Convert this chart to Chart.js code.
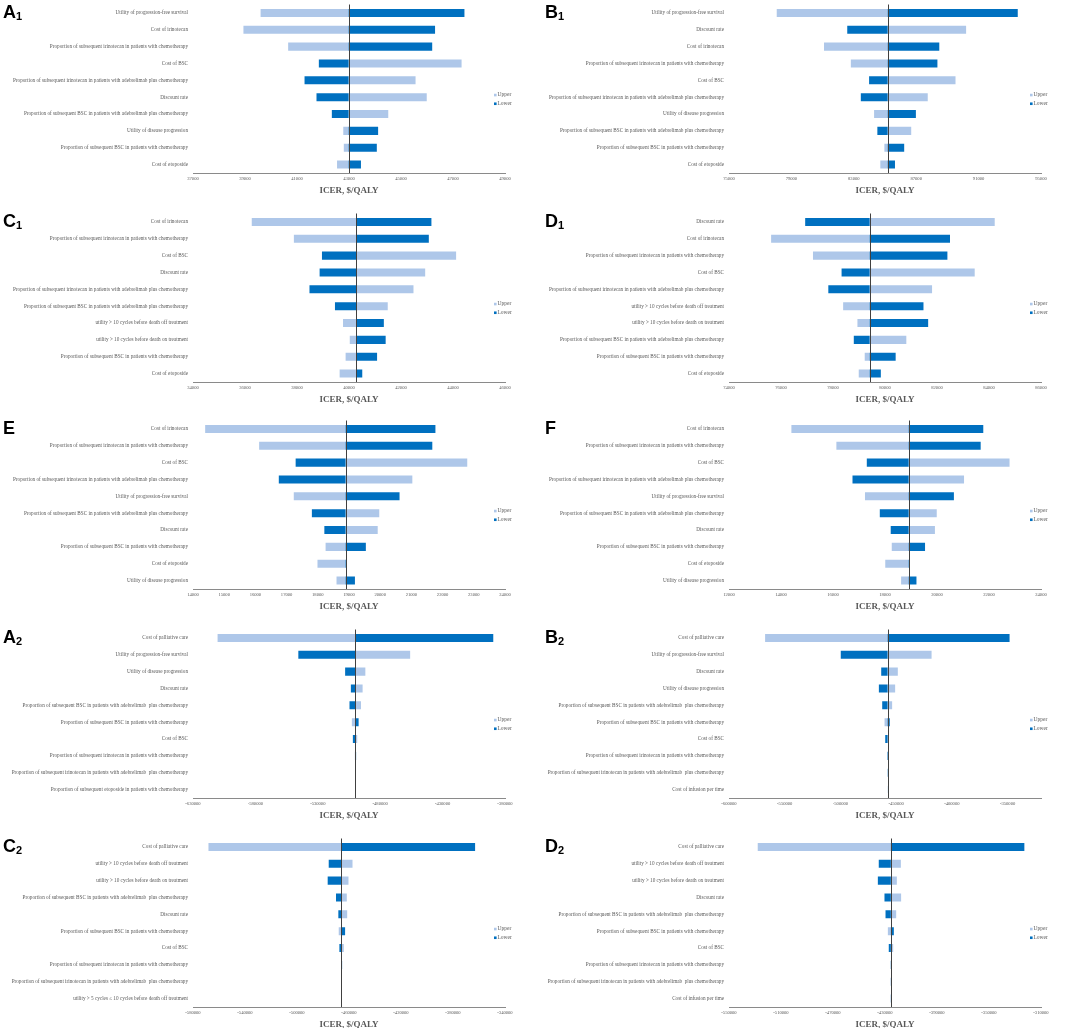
<!DOCTYPE html>
<html>
<head>
<meta charset="utf-8">
<script src="https://cdn.jsdelivr.net/npm/chart.js@4.4.0/dist/chart.umd.min.js"></script>
<style>
    body { margin: 0; background: #fff; width: 1065px; height: 1028px; overflow: hidden; position: relative; }
    .panel { position: absolute; width: 530px; height: 200px; }
    .panel canvas { position: absolute; left: 0; top: 0; }
    .tag { position: absolute; top: 3px; font: bold 18px/18px "Liberation Sans", Arial, sans-serif; color: #000; }
    .tag sub { font-size: 11px; vertical-align: -2px; line-height: 0; }
</style>
</head>
<body>

<div class="panel" style="left:0;top:0"><canvas id="a1" width="530" height="200"></canvas><div class="tag" style="left:3px">A<sub>1</sub></div></div>
<div class="panel" style="left:536px;top:0"><canvas id="b1" width="530" height="200"></canvas><div class="tag" style="left:9px">B<sub>1</sub></div></div>
<div class="panel" style="left:0;top:209px"><canvas id="c1" width="530" height="200"></canvas><div class="tag" style="left:3px">C<sub>1</sub></div></div>
<div class="panel" style="left:536px;top:209px"><canvas id="d1" width="530" height="200"></canvas><div class="tag" style="left:9px">D<sub>1</sub></div></div>
<div class="panel" style="left:0;top:416px"><canvas id="e" width="530" height="200"></canvas><div class="tag" style="left:3px">E</div></div>
<div class="panel" style="left:536px;top:416px"><canvas id="f" width="530" height="200"></canvas><div class="tag" style="left:9px">F</div></div>
<div class="panel" style="left:0;top:625px"><canvas id="a2" width="530" height="200"></canvas><div class="tag" style="left:3px">A<sub>2</sub></div></div>
<div class="panel" style="left:536px;top:625px"><canvas id="b2" width="530" height="200"></canvas><div class="tag" style="left:9px">B<sub>2</sub></div></div>
<div class="panel" style="left:0;top:834px"><canvas id="c2" width="530" height="200"></canvas><div class="tag" style="left:3px">C<sub>2</sub></div></div>
<div class="panel" style="left:536px;top:834px"><canvas id="d2" width="530" height="200"></canvas><div class="tag" style="left:9px">D<sub>2</sub></div></div>

<script>
// ---- data (ICER, $/QALY) ----
// axis arrays are [min, max, step]

const a1Labels = [
    'Utility of progression-free survival',
    'Cost of irinotecan',
    'Proportion of subsequent irinotecan in patients with chemotherapy',
    'Cost of BSC',
    'Proportion of subsequent irinotecan in patients with adebrelimab plus chemotherapy',
    'Discount rate',
    'Proportion of subsequent BSC in patients with adebrelimab plus chemotherapy',
    'Utility of disease progression',
    'Proportion of subsequent BSC in patients with chemotherapy',
    'Cost of etoposide',
];
const a1Upper = [39600, 38940, 40660, 47330, 45560, 45990, 44510, 42780, 42800, 42540];
const a1Lower = [47440, 46310, 46200, 41840, 41290, 41750, 42340, 44120, 44070, 43460];
const a1Base = 42985;
const a1Axis = [37000, 49000, 2000];

const b1Labels = [
    'Utility of progression-free survival',
    'Discount rate',
    'Cost of irinotecan',
    'Proportion of subsequent irinotecan in patients with chemotherapy',
    'Cost of BSC',
    'Proportion of subsequent irinotecan in patients with adebrelimab plus chemotherapy',
    'Utility of disease progression',
    'Proportion of subsequent BSC in patients with adebrelimab plus chemotherapy',
    'Proportion of subsequent BSC in patients with chemotherapy',
    'Cost of etoposide',
];
const b1Upper = [78060, 90200, 81090, 82810, 89520, 87740, 84300, 86680, 84960, 84700];
const b1Lower = [93510, 82580, 88480, 88360, 83980, 83450, 86980, 84510, 86230, 85640];
const b1Base = 85170;
const b1Axis = [75000, 95000, 4000];

const c1Labels = [
    'Cost of irinotecan',
    'Proportion of subsequent irinotecan in patients with chemotherapy',
    'Cost of BSC',
    'Discount rate',
    'Proportion of subsequent irinotecan in patients with adebrelimab plus chemotherapy',
    'Proportion of subsequent BSC in patients with adebrelimab plus chemotherapy',
    'utility > 10 cycles before death off treatment',
    'utility > 10 cycles before death on treatment',
    'Proportion of subsequent BSC in patients with chemotherapy',
    'Cost of etoposide',
];
const c1Upper = [36260, 37880, 44120, 42930, 42480, 41490, 39770, 40030, 39870, 39640];
const c1Lower = [43170, 43070, 38960, 38870, 38480, 39460, 41340, 41410, 41080, 40510];
const c1Base = 40270;
const c1Axis = [34000, 46000, 2000];

const d1Labels = [
    'Discount rate',
    'Cost of irinotecan',
    'Proportion of subsequent irinotecan in patients with chemotherapy',
    'Cost of BSC',
    'Proportion of subsequent irinotecan in patients with adebrelimab plus chemotherapy',
    'utility > 10 cycles before death off treatment',
    'utility > 10 cycles before death on treatment',
    'Proportion of subsequent BSC in patients with adebrelimab plus chemotherapy',
    'Proportion of subsequent BSC in patients with chemotherapy',
    'Cost of etoposide',
];
const d1Upper = [84220, 75620, 77230, 83450, 81810, 78390, 78940, 80820, 79220, 78990];
const d1Lower = [76930, 82500, 82400, 78330, 77820, 81480, 81660, 78800, 80410, 79840];
const d1Base = 79410;
const d1Axis = [74000, 86000, 2000];

const eLabels = [
    'Cost of irinotecan',
    'Proportion of subsequent irinotecan in patients with chemotherapy',
    'Cost of BSC',
    'Proportion of subsequent irinotecan in patients with adebrelimab plus chemotherapy',
    'Utility of progression-free survival',
    'Proportion of subsequent BSC in patients with adebrelimab plus chemotherapy',
    'Discount rate',
    'Proportion of subsequent BSC in patients with chemotherapy',
    'Cost of etoposide',
    'Utility of disease progression',
];
const eUpper = [14390, 16120, 22790, 21030, 17230, 19970, 19920, 18250, 17990, 18600];
const eLower = [21770, 21670, 17290, 16750, 20620, 17810, 18210, 19540, 18920, 19190];
const eBase = 18890;
const eAxis = [14000, 24000, 1000];

const fLabels = eLabels;
const fUpper = [14400, 16130, 22790, 21040, 17230, 19990, 19920, 18260, 18010, 18620];
const fLower = [21780, 21680, 17300, 16750, 20650, 17800, 18220, 19540, 18950, 19210];
const fBase = 18910;
const fAxis = [12000, 24000, 2000];

const a2Labels = [
    'Cost of palliative care',
    'Utility of progression-free survival',
    'Utility of disease progression',
    'Discount rate',
    'Proportion of subsequent BSC in patients with adebrelimab  plus chemotherapy',
    'Proportion of subsequent BSC in patients with chemotherapy',
    'Cost of BSC',
    'Proportion of subsequent irinotecan in patients with chemotherapy',
    'Proportion of subsequent irinotecan in patients with adebrelimab  plus chemotherapy',
    'Proportion of subsequent etoposide in patients with chemotherapy',
];
const a2Upper = [-610300, -456000, -491900, -494100, -495400, -502700, -498400, -500300, -500200, -500150];
const a2Lower = [-389400, -545600, -508100, -503500, -504600, -497300, -501900, -499300, -499700, -499900];
const a2Base = -500100;
const a2Axis = [-630000, -380000, 50000];

const b2Labels = [
    'Cost of palliative care',
    'Utility of progression-free survival',
    'Discount rate',
    'Utility of disease progression',
    'Proportion of subsequent BSC in patients with adebrelimab  plus chemotherapy',
    'Proportion of subsequent BSC in patients with chemotherapy',
    'Cost of BSC',
    'Proportion of subsequent irinotecan in patients with chemotherapy',
    'Proportion of subsequent irinotecan in patients with adebrelimab  plus chemotherapy',
    'Cost of infusion per time',
];
const b2Upper = [-567600, -418200, -448500, -450900, -453600, -460400, -456600, -457900, -457800, -457750];
const b2Lower = [-348200, -499700, -463400, -465500, -462500, -455700, -459800, -457300, -457500, -457650];
const b2Base = -457700;
const b2Axis = [-600000, -320000, 50000];

const c2Labels = [
    'Cost of palliative care',
    'utility > 10 cycles before death off treatment',
    'utility > 10 cycles before death on treatment',
    'Proportion of subsequent BSC in patients with adebrelimab  plus chemotherapy',
    'Discount rate',
    'Proportion of subsequent BSC in patients with chemotherapy',
    'Cost of BSC',
    'Proportion of subsequent irinotecan in patients with chemotherapy',
    'Proportion of subsequent irinotecan in patients with adebrelimab  plus chemotherapy',
    'utility > 5 cycles \u2264 10 cycles before death off treatment',
];
const c2Upper = [-568100, -457300, -460400, -461700, -461400, -467900, -464000, -466000, -465900, -465900];
const c2Lower = [-363000, -475600, -476400, -470000, -468200, -463000, -467400, -465300, -465700, -465700];
const c2Base = -465800;
const c2Axis = [-580000, -340000, 40000];

const d2Labels = [
    'Cost of palliative care',
    'utility > 10 cycles before death off treatment',
    'utility > 10 cycles before death on treatment',
    'Discount rate',
    'Proportion of subsequent BSC in patients with adebrelimab  plus chemotherapy',
    'Proportion of subsequent BSC in patients with chemotherapy',
    'Cost of BSC',
    'Proportion of subsequent irinotecan in patients with chemotherapy',
    'Proportion of subsequent irinotecan in patients with adebrelimab  plus chemotherapy',
    'Cost of infusion per time',
];
const d2Upper = [-527900, -417800, -420900, -417600, -421400, -427800, -423700, -425700, -425600, -425600];
const d2Lower = [-322800, -434800, -435500, -430400, -429600, -423200, -427100, -425200, -425400, -425400];
const d2Base = -425500;
const d2Axis = [-550000, -310000, 40000];

// ---- styling ----
const LIGHT = '#aec7e9';
const DARK = '#0070c0';
const GREY_TEXT = '#595959';
const SERIF = '"Liberation Serif", "Times New Roman", serif';

Chart.defaults.font.family = SERIF;

// vertical line at the base-case ICER
const baseLine = {
    id: 'baseLine',
    afterDatasetsDraw(chart, args, opts) {
        const x = chart.scales.x.getPixelForValue(opts.value);
        const { top, bottom } = chart.chartArea;
        const ctx = chart.ctx;
        ctx.save();
        ctx.strokeStyle = '#404040';
        ctx.lineWidth = 1;
        ctx.beginPath();
        ctx.moveTo(Math.round(x) + 0.5, top);
        ctx.lineTo(Math.round(x) + 0.5, bottom);
        ctx.stroke();
        ctx.restore();
    },
};

// small Upper/Lower key at the right edge of the plot
const sideLegend = {
    id: 'sideLegend',
    afterDraw(chart) {
        const { ctx, chartArea } = chart;
        const mid = (chartArea.top + chartArea.bottom) / 2;
        ctx.save();
        ctx.font = '5.5px ' + SERIF;
        ctx.textBaseline = 'middle';
        chart.data.datasets.forEach((ds, i) => {
            const y = mid + 6.3 + i * 8.7;
            ctx.fillStyle = ds.backgroundColor;
            ctx.fillRect(chartArea.right - 11, y - 1.3, 2.6, 2.6);
            ctx.fillStyle = GREY_TEXT;
            ctx.fillText(ds.label, chartArea.right - 7.5, y);
        });
        ctx.restore();
    },
};

function tornado(id, labels, upper, lower, base, axis) {
    new Chart(document.getElementById(id), {
        type: 'bar',
        data: {
            labels: labels,
            datasets: [
                { label: 'Upper', data: upper.map(v => [base, v]), backgroundColor: LIGHT, order: 1 },
                { label: 'Lower', data: lower.map(v => [base, v]), backgroundColor: DARK, order: 0 },
            ],
        },
        options: {
            indexAxis: 'y',
            responsive: false,
            animation: false,
            layout: { padding: { top: 4.5, right: 25, bottom: 0, left: 0 } },
            datasets: { bar: { grouped: false, categoryPercentage: 1, barPercentage: 0.48 } },
            plugins: {
                legend: { display: false },
                tooltip: { enabled: false },
                baseLine: { value: base },
            },
            scales: {
                x: {
                    type: 'linear',
                    min: axis[0],
                    max: axis[1],
                    bounds: 'data',
                    grid: { display: false, drawTicks: false },
                    border: { display: true, color: '#8a8a8a', width: 1 },
                    ticks: {
                        autoSkip: false,
                        maxRotation: 0,
                        padding: 3,
                        color: GREY_TEXT,
                        font: { size: 4.6 },
                        callback: v => String(v),
                    },
                    // tick every axis[2] from the minimum, like the Excel axis
                    afterBuildTicks: s => {
                        const ticks = [];
                        for (let v = axis[0]; v <= axis[1]; v += axis[2]) ticks.push({ value: v });
                        s.ticks = ticks;
                    },
                    title: {
                        display: true,
                        text: 'ICER, $/QALY',
                        color: GREY_TEXT,
                        font: { size: 9, weight: 'bold' },
                        padding: { top: 0, bottom: 4 },
                    },
                    afterFit: s => { s.height = 27; },
                },
                y: {
                    grid: { display: false, drawTicks: false },
                    border: { display: false },
                    ticks: { autoSkip: false, padding: 5, color: GREY_TEXT, font: { size: 5.2 } },
                    // fixed label column, and no extra label padding above/below the bands
                    afterFit: s => {
                        s.width = 193;
                        s.paddingTop = 0;
                        s.paddingBottom = 0;
                    },
                },
            },
        },
        plugins: [baseLine, sideLegend],
    });
}

tornado('a1', a1Labels, a1Upper, a1Lower, a1Base, a1Axis);
tornado('b1', b1Labels, b1Upper, b1Lower, b1Base, b1Axis);
tornado('c1', c1Labels, c1Upper, c1Lower, c1Base, c1Axis);
tornado('d1', d1Labels, d1Upper, d1Lower, d1Base, d1Axis);
tornado('e', eLabels, eUpper, eLower, eBase, eAxis);
tornado('f', fLabels, fUpper, fLower, fBase, fAxis);
tornado('a2', a2Labels, a2Upper, a2Lower, a2Base, a2Axis);
tornado('b2', b2Labels, b2Upper, b2Lower, b2Base, b2Axis);
tornado('c2', c2Labels, c2Upper, c2Lower, c2Base, c2Axis);
tornado('d2', d2Labels, d2Upper, d2Lower, d2Base, d2Axis);
</script>
</body>
</html>
